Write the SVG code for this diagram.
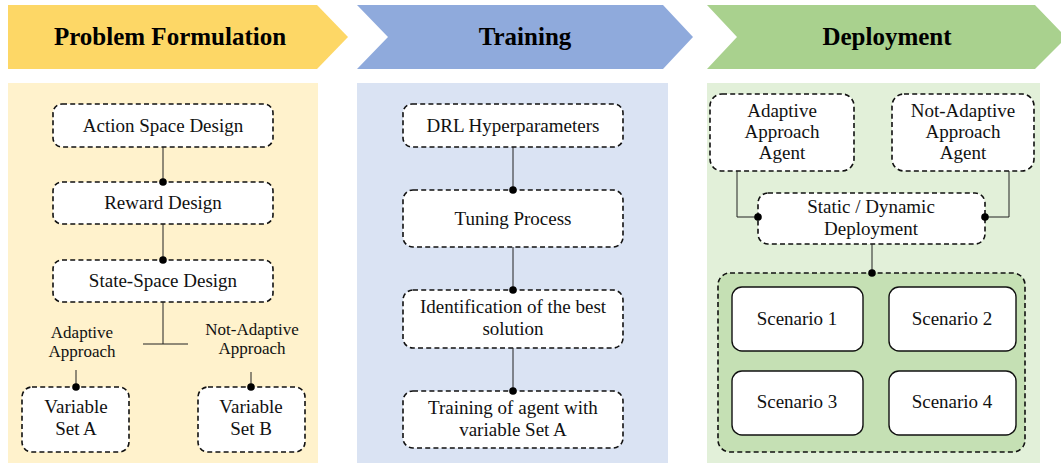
<svg xmlns="http://www.w3.org/2000/svg" width="1061" height="463" viewBox="0 0 1061 463">
<style>
.title{font-family:"Liberation Serif",serif;font-weight:bold;font-size:25px;fill:#000;text-anchor:middle}
.t{font-family:"Liberation Serif",serif;font-size:19px;fill:#111;text-anchor:middle}
.lbl{font-family:"Liberation Serif",serif;font-size:17px;fill:#111;text-anchor:middle}
.box{fill:#fff;stroke:#111;stroke-width:1.6;stroke-dasharray:5 3.2}
.sc{fill:#fff;stroke:#111;stroke-width:1.4}
.ln{stroke:#222;stroke-width:1;fill:none}
.dot{fill:#000}
</style>
<rect width="1061" height="463" fill="#fff"/>
<g id="chevrons">
<polygon points="8,5 317,5 348,37 317,69 8,69" fill="#FDD766"/>
<polygon points="357,5 663,5 693,37 663,69 357,69 388,37" fill="#8FAADC"/>
<polygon points="707,5 1035,5 1061,32 1061,43 1035,69 707,69 737,37" fill="#A9D18E"/>
<text class="title" x="170" y="45">Problem Formulation</text>
<text class="title" x="525" y="45">Training</text>
<text class="title" x="887" y="45">Deployment</text>
</g>
<g id="panels">
<rect x="8" y="83" width="310" height="380" fill="#FFF2CC"/>
<rect x="357" y="83" width="311" height="380" fill="#DAE3F3"/>
<rect x="707" y="83" width="333" height="380" fill="#E2F0D9"/>
</g>
<g id="n-action"><rect class="box" x="53" y="104" width="220" height="43" rx="9"/><text class="t" x="163" y="132">Action Space Design</text></g>
<g id="n-reward"><rect class="box" x="53" y="182" width="220" height="42" rx="9"/><text class="t" x="163" y="209">Reward Design</text></g>
<g id="n-state"><rect class="box" x="53" y="260" width="220" height="42" rx="9"/><text class="t" x="163" y="287">State-Space Design</text></g>
<g id="l-adaptive"><text class="lbl" x="82" y="338">Adaptive</text><text class="lbl" x="82" y="357">Approach</text></g>
<g id="l-notadaptive"><text class="lbl" x="252" y="335">Not-Adaptive</text><text class="lbl" x="252" y="354">Approach</text></g>
<g id="n-varA"><rect class="box" x="22" y="387" width="107" height="65" rx="10"/><text class="t" x="76" y="413">Variable</text><text class="t" x="76" y="435">Set A</text></g>
<g id="n-varB"><rect class="box" x="198" y="387" width="107" height="65" rx="10"/><text class="t" x="251" y="413">Variable</text><text class="t" x="251" y="435">Set B</text></g>
<g id="n-drl"><rect class="box" x="403" y="104" width="220" height="43" rx="9"/><text class="t" x="513" y="132">DRL Hyperparameters</text></g>
<g id="n-tuning"><rect class="box" x="403" y="190" width="220" height="57" rx="10"/><text class="t" x="513" y="225">Tuning Process</text></g>
<g id="n-ident"><rect class="box" x="403" y="290" width="220" height="58" rx="10"/><text class="t" x="513" y="313">Identification of the best</text><text class="t" x="513" y="335">solution</text></g>
<g id="n-train"><rect class="box" x="403" y="391" width="220" height="57" rx="10"/><text class="t" x="513" y="414">Training of agent with</text><text class="t" x="513" y="436">variable Set A</text></g>
<g id="n-adagent"><rect class="box" x="710" y="94" width="144" height="77" rx="12"/><text class="t" x="782" y="117">Adaptive</text><text class="t" x="782" y="138">Approach</text><text class="t" x="782" y="159">Agent</text></g>
<g id="n-notagent"><rect class="box" x="892" y="94" width="142" height="77" rx="12"/><text class="t" x="963" y="117">Not-Adaptive</text><text class="t" x="963" y="138">Approach</text><text class="t" x="963" y="159">Agent</text></g>
<g id="n-deploy"><rect class="box" x="758" y="193" width="227" height="51" rx="10"/><text class="t" x="871" y="213">Static / Dynamic</text><text class="t" x="871" y="235">Deployment</text></g>
<g id="n-scenarios">
<rect class="box" x="718" y="273" width="307" height="179" rx="12" style="fill:#C5E0B4"/>
<rect class="sc" x="732" y="287" width="131" height="64" rx="10"/><text class="t" x="797" y="325">Scenario 1</text>
<rect class="sc" x="889" y="287" width="127" height="64" rx="10"/><text class="t" x="952" y="325">Scenario 2</text>
<rect class="sc" x="732" y="371" width="131" height="64" rx="10"/><text class="t" x="797" y="408">Scenario 3</text>
<rect class="sc" x="889" y="371" width="127" height="64" rx="10"/><text class="t" x="952" y="408">Scenario 4</text>
</g>
<g id="connectors">
<line class="ln" x1="163" y1="147" x2="163" y2="182"/><circle class="dot" cx="163" cy="182" r="3.8"/>
<line class="ln" x1="163" y1="224" x2="163" y2="260"/><circle class="dot" cx="163" cy="260" r="3.8"/>
<line class="ln" x1="163" y1="302" x2="163" y2="344"/>
<line class="ln" x1="143" y1="344" x2="188" y2="344"/>
<line class="ln" x1="76" y1="370" x2="76" y2="387"/><circle class="dot" cx="76" cy="387" r="3.8"/>
<line class="ln" x1="251" y1="372" x2="251" y2="387"/><circle class="dot" cx="251" cy="387" r="3.8"/>
<line class="ln" x1="513" y1="147" x2="513" y2="190"/><circle class="dot" cx="513" cy="190" r="3.8"/>
<line class="ln" x1="513" y1="247" x2="513" y2="290"/><circle class="dot" cx="513" cy="290" r="3.8"/>
<line class="ln" x1="513" y1="348" x2="513" y2="391"/><circle class="dot" cx="513" cy="391" r="3.8"/>
<polyline class="ln" points="737,171 737,217 758,217"/><circle class="dot" cx="758" cy="217" r="3.8"/>
<polyline class="ln" points="1009,171 1009,217 985,217"/><circle class="dot" cx="985" cy="217" r="3.8"/>
<line class="ln" x1="872" y1="244" x2="872" y2="273"/><circle class="dot" cx="872" cy="273" r="3.8"/>
</g>
</svg>
